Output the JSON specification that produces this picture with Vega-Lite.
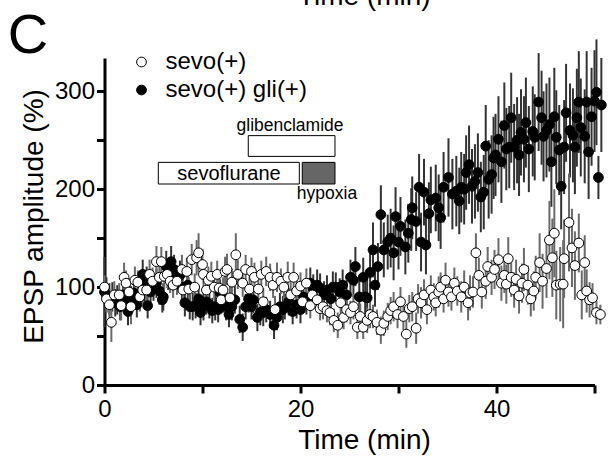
{
"$schema":"https://vega.github.io/schema/vega-lite/v6.json",
"width":490,"height":327,
"autosize":{"type":"none"},
"padding":{"left":104.5,"top":58,"right":15.5,"bottom":74},
"config":{"view":{"stroke":null},"font":"Liberation Sans"},
"datasets":{
"pts":[
{"g":"sevo(+) gli(+)","t":0.0,"y":95,"e":36},{"g":"sevo(+) gli(+)","t":0.2,"y":92,"e":18},{"g":"sevo(+) gli(+)","t":0.5,"y":88,"e":16},{"g":"sevo(+) gli(+)","t":0.8,"y":90,"e":15},{"g":"sevo(+) gli(+)","t":1.1,"y":84,"e":14},{"g":"sevo(+) gli(+)","t":1.3,"y":87,"e":15},{"g":"sevo(+) gli(+)","t":1.6,"y":80,"e":14},{"g":"sevo(+) gli(+)","t":1.9,"y":92,"e":13},{"g":"sevo(+) gli(+)","t":2.1,"y":86,"e":14},{"g":"sevo(+) gli(+)","t":2.4,"y":75,"e":14},{"g":"sevo(+) gli(+)","t":2.7,"y":88,"e":13},{"g":"sevo(+) gli(+)","t":3.0,"y":94,"e":14},{"g":"sevo(+) gli(+)","t":3.3,"y":82,"e":13},{"g":"sevo(+) gli(+)","t":3.6,"y":90,"e":14},{"g":"sevo(+) gli(+)","t":3.9,"y":113,"e":15},{"g":"sevo(+) gli(+)","t":4.1,"y":98,"e":14},{"g":"sevo(+) gli(+)","t":4.3,"y":107,"e":14},{"g":"sevo(+) gli(+)","t":4.4,"y":81,"e":13},{"g":"sevo(+) gli(+)","t":4.7,"y":95,"e":14},{"g":"sevo(+) gli(+)","t":5.0,"y":100,"e":14},{"g":"sevo(+) gli(+)","t":5.3,"y":104,"e":15},{"g":"sevo(+) gli(+)","t":5.6,"y":96,"e":14},{"g":"sevo(+) gli(+)","t":5.9,"y":87,"e":13},{"g":"sevo(+) gli(+)","t":6.0,"y":90,"e":14},{"g":"sevo(+) gli(+)","t":6.3,"y":121,"e":16},{"g":"sevo(+) gli(+)","t":6.5,"y":112,"e":15},{"g":"sevo(+) gli(+)","t":6.8,"y":126,"e":16},{"g":"sevo(+) gli(+)","t":7.1,"y":118,"e":15},{"g":"sevo(+) gli(+)","t":7.4,"y":108,"e":14},{"g":"sevo(+) gli(+)","t":7.7,"y":112,"e":15},{"g":"sevo(+) gli(+)","t":7.9,"y":100,"e":13},{"g":"sevo(+) gli(+)","t":8.2,"y":84,"e":14},{"g":"sevo(+) gli(+)","t":8.5,"y":102,"e":14},{"g":"sevo(+) gli(+)","t":8.7,"y":80,"e":13},{"g":"sevo(+) gli(+)","t":9.0,"y":80,"e":14},{"g":"sevo(+) gli(+)","t":9.3,"y":81,"e":13},{"g":"sevo(+) gli(+)","t":9.6,"y":88,"e":14},{"g":"sevo(+) gli(+)","t":9.8,"y":74,"e":13},{"g":"sevo(+) gli(+)","t":10.1,"y":80,"e":14},{"g":"sevo(+) gli(+)","t":10.4,"y":85,"e":13},{"g":"sevo(+) gli(+)","t":10.7,"y":82,"e":14},{"g":"sevo(+) gli(+)","t":11.0,"y":76,"e":13},{"g":"sevo(+) gli(+)","t":11.3,"y":80,"e":14},{"g":"sevo(+) gli(+)","t":11.6,"y":77,"e":13},{"g":"sevo(+) gli(+)","t":11.8,"y":94,"e":14},{"g":"sevo(+) gli(+)","t":12.1,"y":87,"e":13},{"g":"sevo(+) gli(+)","t":12.4,"y":80,"e":14},{"g":"sevo(+) gli(+)","t":12.7,"y":72,"e":13},{"g":"sevo(+) gli(+)","t":13.0,"y":80,"e":14},{"g":"sevo(+) gli(+)","t":13.3,"y":87,"e":14},{"g":"sevo(+) gli(+)","t":13.8,"y":67,"e":14},{"g":"sevo(+) gli(+)","t":14.1,"y":59,"e":14},{"g":"sevo(+) gli(+)","t":14.4,"y":80,"e":13},{"g":"sevo(+) gli(+)","t":14.7,"y":88,"e":14},{"g":"sevo(+) gli(+)","t":15.0,"y":80,"e":13},{"g":"sevo(+) gli(+)","t":15.2,"y":87,"e":14},{"g":"sevo(+) gli(+)","t":15.6,"y":69,"e":14},{"g":"sevo(+) gli(+)","t":15.9,"y":74,"e":13},{"g":"sevo(+) gli(+)","t":16.2,"y":74,"e":14},{"g":"sevo(+) gli(+)","t":16.5,"y":77,"e":13},{"g":"sevo(+) gli(+)","t":16.9,"y":72,"e":14},{"g":"sevo(+) gli(+)","t":17.3,"y":61,"e":14},{"g":"sevo(+) gli(+)","t":17.6,"y":69,"e":13},{"g":"sevo(+) gli(+)","t":17.9,"y":80,"e":14},{"g":"sevo(+) gli(+)","t":18.2,"y":77,"e":14},{"g":"sevo(+) gli(+)","t":18.4,"y":80,"e":13},{"g":"sevo(+) gli(+)","t":18.8,"y":85,"e":14},{"g":"sevo(+) gli(+)","t":19.2,"y":75,"e":13},{"g":"sevo(+) gli(+)","t":19.6,"y":82,"e":14},{"g":"sevo(+) gli(+)","t":20.0,"y":77,"e":14},{"g":"sevo(+) gli(+)","t":20.3,"y":90,"e":15},{"g":"sevo(+) gli(+)","t":20.6,"y":86,"e":14},{"g":"sevo(+) gli(+)","t":21.0,"y":104,"e":16},{"g":"sevo(+) gli(+)","t":21.3,"y":98,"e":15},{"g":"sevo(+) gli(+)","t":21.7,"y":102,"e":16},{"g":"sevo(+) gli(+)","t":22.0,"y":99,"e":15},{"g":"sevo(+) gli(+)","t":22.4,"y":92,"e":14},{"g":"sevo(+) gli(+)","t":22.7,"y":97,"e":15},{"g":"sevo(+) gli(+)","t":23.1,"y":88,"e":14},{"g":"sevo(+) gli(+)","t":23.3,"y":100,"e":16},{"g":"sevo(+) gli(+)","t":23.6,"y":100,"e":15},{"g":"sevo(+) gli(+)","t":24.0,"y":95,"e":14},{"g":"sevo(+) gli(+)","t":24.3,"y":102,"e":16},{"g":"sevo(+) gli(+)","t":24.7,"y":92,"e":15},{"g":"sevo(+) gli(+)","t":25.1,"y":110,"e":18},{"g":"sevo(+) gli(+)","t":25.4,"y":107,"e":17},{"g":"sevo(+) gli(+)","t":25.6,"y":121,"e":20},{"g":"sevo(+) gli(+)","t":26.0,"y":90,"e":18},{"g":"sevo(+) gli(+)","t":26.4,"y":110,"e":20},{"g":"sevo(+) gli(+)","t":26.6,"y":90,"e":18},{"g":"sevo(+) gli(+)","t":26.8,"y":89,"e":20},{"g":"sevo(+) gli(+)","t":27.1,"y":115,"e":22},{"g":"sevo(+) gli(+)","t":27.4,"y":138,"e":28},{"g":"sevo(+) gli(+)","t":27.6,"y":102,"e":22},{"g":"sevo(+) gli(+)","t":27.9,"y":121,"e":24},{"g":"sevo(+) gli(+)","t":28.2,"y":174,"e":30},{"g":"sevo(+) gli(+)","t":28.5,"y":138,"e":28},{"g":"sevo(+) gli(+)","t":28.9,"y":146,"e":28},{"g":"sevo(+) gli(+)","t":29.2,"y":150,"e":30},{"g":"sevo(+) gli(+)","t":29.5,"y":135,"e":28},{"g":"sevo(+) gli(+)","t":29.7,"y":172,"e":30},{"g":"sevo(+) gli(+)","t":30.0,"y":146,"e":28},{"g":"sevo(+) gli(+)","t":30.2,"y":162,"e":30},{"g":"sevo(+) gli(+)","t":30.7,"y":141,"e":28},{"g":"sevo(+) gli(+)","t":31.0,"y":155,"e":30},{"g":"sevo(+) gli(+)","t":31.3,"y":169,"e":32},{"g":"sevo(+) gli(+)","t":31.4,"y":181,"e":32},{"g":"sevo(+) gli(+)","t":31.8,"y":167,"e":30},{"g":"sevo(+) gli(+)","t":32.1,"y":202,"e":34},{"g":"sevo(+) gli(+)","t":32.3,"y":146,"e":30},{"g":"sevo(+) gli(+)","t":32.6,"y":197,"e":34},{"g":"sevo(+) gli(+)","t":32.8,"y":143,"e":30},{"g":"sevo(+) gli(+)","t":33.1,"y":175,"e":32},{"g":"sevo(+) gli(+)","t":33.3,"y":189,"e":34},{"g":"sevo(+) gli(+)","t":33.8,"y":191,"e":34},{"g":"sevo(+) gli(+)","t":34.1,"y":181,"e":34},{"g":"sevo(+) gli(+)","t":34.3,"y":171,"e":32},{"g":"sevo(+) gli(+)","t":34.6,"y":202,"e":36},{"g":"sevo(+) gli(+)","t":35.1,"y":212,"e":40},{"g":"sevo(+) gli(+)","t":35.5,"y":195,"e":36},{"g":"sevo(+) gli(+)","t":35.9,"y":198,"e":36},{"g":"sevo(+) gli(+)","t":36.2,"y":188,"e":34},{"g":"sevo(+) gli(+)","t":36.4,"y":202,"e":36},{"g":"sevo(+) gli(+)","t":36.7,"y":200,"e":36},{"g":"sevo(+) gli(+)","t":36.9,"y":217,"e":38},{"g":"sevo(+) gli(+)","t":37.2,"y":225,"e":40},{"g":"sevo(+) gli(+)","t":37.5,"y":203,"e":38},{"g":"sevo(+) gli(+)","t":37.8,"y":208,"e":38},{"g":"sevo(+) gli(+)","t":38.1,"y":217,"e":40},{"g":"sevo(+) gli(+)","t":38.4,"y":192,"e":36},{"g":"sevo(+) gli(+)","t":38.7,"y":197,"e":38},{"g":"sevo(+) gli(+)","t":38.9,"y":244,"e":42},{"g":"sevo(+) gli(+)","t":39.2,"y":210,"e":40},{"g":"sevo(+) gli(+)","t":39.5,"y":215,"e":40},{"g":"sevo(+) gli(+)","t":39.7,"y":232,"e":42},{"g":"sevo(+) gli(+)","t":39.9,"y":235,"e":42},{"g":"sevo(+) gli(+)","t":40.2,"y":251,"e":44},{"g":"sevo(+) gli(+)","t":40.5,"y":228,"e":42},{"g":"sevo(+) gli(+)","t":40.8,"y":265,"e":44},{"g":"sevo(+) gli(+)","t":41.0,"y":241,"e":42},{"g":"sevo(+) gli(+)","t":41.3,"y":243,"e":42},{"g":"sevo(+) gli(+)","t":41.5,"y":273,"e":46},{"g":"sevo(+) gli(+)","t":41.8,"y":243,"e":44},{"g":"sevo(+) gli(+)","t":42.1,"y":250,"e":44},{"g":"sevo(+) gli(+)","t":42.3,"y":235,"e":42},{"g":"sevo(+) gli(+)","t":42.5,"y":258,"e":44},{"g":"sevo(+) gli(+)","t":42.8,"y":251,"e":44},{"g":"sevo(+) gli(+)","t":43.0,"y":268,"e":46},{"g":"sevo(+) gli(+)","t":43.3,"y":241,"e":44},{"g":"sevo(+) gli(+)","t":43.7,"y":259,"e":46},{"g":"sevo(+) gli(+)","t":43.9,"y":253,"e":44},{"g":"sevo(+) gli(+)","t":44.3,"y":289,"e":50},{"g":"sevo(+) gli(+)","t":44.6,"y":273,"e":48},{"g":"sevo(+) gli(+)","t":44.8,"y":254,"e":46},{"g":"sevo(+) gli(+)","t":45.1,"y":260,"e":48},{"g":"sevo(+) gli(+)","t":45.4,"y":266,"e":48},{"g":"sevo(+) gli(+)","t":45.6,"y":228,"e":46},{"g":"sevo(+) gli(+)","t":45.9,"y":274,"e":50},{"g":"sevo(+) gli(+)","t":46.1,"y":253,"e":48},{"g":"sevo(+) gli(+)","t":46.4,"y":240,"e":46},{"g":"sevo(+) gli(+)","t":46.6,"y":203,"e":44},{"g":"sevo(+) gli(+)","t":46.9,"y":243,"e":48},{"g":"sevo(+) gli(+)","t":47.1,"y":278,"e":50},{"g":"sevo(+) gli(+)","t":47.5,"y":260,"e":48},{"g":"sevo(+) gli(+)","t":47.8,"y":255,"e":48},{"g":"sevo(+) gli(+)","t":48.0,"y":243,"e":48},{"g":"sevo(+) gli(+)","t":48.2,"y":273,"e":50},{"g":"sevo(+) gli(+)","t":48.4,"y":289,"e":52},{"g":"sevo(+) gli(+)","t":48.6,"y":263,"e":50},{"g":"sevo(+) gli(+)","t":49.0,"y":254,"e":48},{"g":"sevo(+) gli(+)","t":49.2,"y":289,"e":52},{"g":"sevo(+) gli(+)","t":49.4,"y":238,"e":48},{"g":"sevo(+) gli(+)","t":49.7,"y":274,"e":50},{"g":"sevo(+) gli(+)","t":50.0,"y":290,"e":52},{"g":"sevo(+) gli(+)","t":50.2,"y":299,"e":54},{"g":"sevo(+) gli(+)","t":50.4,"y":212,"e":22},{"g":"sevo(+) gli(+)","t":50.7,"y":286,"e":48},
{"g":"sevo(+)","t":0.0,"y":100,"e":12},{"g":"sevo(+)","t":0.2,"y":88,"e":14},{"g":"sevo(+)","t":0.5,"y":82,"e":16},{"g":"sevo(+)","t":0.7,"y":64,"e":20},{"g":"sevo(+)","t":1.0,"y":92,"e":14},{"g":"sevo(+)","t":1.5,"y":92,"e":12},{"g":"sevo(+)","t":1.7,"y":81,"e":15},{"g":"sevo(+)","t":2.0,"y":110,"e":15},{"g":"sevo(+)","t":2.2,"y":104,"e":13},{"g":"sevo(+)","t":2.5,"y":95,"e":14},{"g":"sevo(+)","t":2.7,"y":80,"e":18},{"g":"sevo(+)","t":3.1,"y":107,"e":14},{"g":"sevo(+)","t":3.4,"y":105,"e":12},{"g":"sevo(+)","t":3.6,"y":90,"e":15},{"g":"sevo(+)","t":3.9,"y":97,"e":14},{"g":"sevo(+)","t":4.3,"y":97,"e":13},{"g":"sevo(+)","t":4.6,"y":113,"e":15},{"g":"sevo(+)","t":4.9,"y":106,"e":14},{"g":"sevo(+)","t":5.3,"y":126,"e":16},{"g":"sevo(+)","t":5.6,"y":110,"e":14},{"g":"sevo(+)","t":5.8,"y":126,"e":15},{"g":"sevo(+)","t":6.1,"y":111,"e":13},{"g":"sevo(+)","t":6.4,"y":113,"e":14},{"g":"sevo(+)","t":6.7,"y":106,"e":12},{"g":"sevo(+)","t":7.0,"y":102,"e":13},{"g":"sevo(+)","t":7.4,"y":106,"e":14},{"g":"sevo(+)","t":7.9,"y":118,"e":15},{"g":"sevo(+)","t":8.0,"y":97,"e":13},{"g":"sevo(+)","t":8.4,"y":116,"e":14},{"g":"sevo(+)","t":8.6,"y":98,"e":12},{"g":"sevo(+)","t":8.9,"y":128,"e":16},{"g":"sevo(+)","t":9.2,"y":100,"e":14},{"g":"sevo(+)","t":9.4,"y":130,"e":18},{"g":"sevo(+)","t":9.6,"y":135,"e":20},{"g":"sevo(+)","t":10.0,"y":123,"e":16},{"g":"sevo(+)","t":10.1,"y":113,"e":14},{"g":"sevo(+)","t":10.4,"y":97,"e":13},{"g":"sevo(+)","t":10.6,"y":107,"e":14},{"g":"sevo(+)","t":10.9,"y":111,"e":15},{"g":"sevo(+)","t":11.2,"y":100,"e":13},{"g":"sevo(+)","t":11.5,"y":113,"e":14},{"g":"sevo(+)","t":11.7,"y":99,"e":12},{"g":"sevo(+)","t":11.9,"y":87,"e":14},{"g":"sevo(+)","t":12.1,"y":97,"e":13},{"g":"sevo(+)","t":12.3,"y":116,"e":15},{"g":"sevo(+)","t":12.5,"y":118,"e":16},{"g":"sevo(+)","t":12.8,"y":89,"e":14},{"g":"sevo(+)","t":13.0,"y":105,"e":14},{"g":"sevo(+)","t":13.4,"y":133,"e":22},{"g":"sevo(+)","t":13.6,"y":113,"e":15},{"g":"sevo(+)","t":14.1,"y":104,"e":14},{"g":"sevo(+)","t":14.4,"y":118,"e":15},{"g":"sevo(+)","t":14.8,"y":98,"e":13},{"g":"sevo(+)","t":15.0,"y":116,"e":14},{"g":"sevo(+)","t":15.3,"y":110,"e":15},{"g":"sevo(+)","t":15.7,"y":98,"e":13},{"g":"sevo(+)","t":16.0,"y":113,"e":14},{"g":"sevo(+)","t":16.2,"y":85,"e":14},{"g":"sevo(+)","t":16.5,"y":116,"e":15},{"g":"sevo(+)","t":16.9,"y":110,"e":14},{"g":"sevo(+)","t":17.2,"y":102,"e":13},{"g":"sevo(+)","t":17.4,"y":77,"e":14},{"g":"sevo(+)","t":17.6,"y":110,"e":15},{"g":"sevo(+)","t":18.0,"y":106,"e":13},{"g":"sevo(+)","t":18.3,"y":100,"e":14},{"g":"sevo(+)","t":18.7,"y":110,"e":16},{"g":"sevo(+)","t":19.0,"y":92,"e":13},{"g":"sevo(+)","t":19.3,"y":110,"e":15},{"g":"sevo(+)","t":19.6,"y":96,"e":14},{"g":"sevo(+)","t":20.0,"y":101,"e":14},{"g":"sevo(+)","t":20.2,"y":85,"e":12},{"g":"sevo(+)","t":20.6,"y":104,"e":15},{"g":"sevo(+)","t":21.0,"y":81,"e":13},{"g":"sevo(+)","t":21.2,"y":92,"e":14},{"g":"sevo(+)","t":21.7,"y":87,"e":13},{"g":"sevo(+)","t":22.0,"y":78,"e":12},{"g":"sevo(+)","t":22.3,"y":80,"e":13},{"g":"sevo(+)","t":22.7,"y":76,"e":12},{"g":"sevo(+)","t":23.0,"y":74,"e":13},{"g":"sevo(+)","t":23.4,"y":66,"e":12},{"g":"sevo(+)","t":23.8,"y":61,"e":13},{"g":"sevo(+)","t":24.1,"y":84,"e":14},{"g":"sevo(+)","t":24.4,"y":69,"e":12},{"g":"sevo(+)","t":24.7,"y":77,"e":13},{"g":"sevo(+)","t":25.1,"y":74,"e":12},{"g":"sevo(+)","t":25.4,"y":80,"e":13},{"g":"sevo(+)","t":25.8,"y":59,"e":12},{"g":"sevo(+)","t":26.1,"y":70,"e":13},{"g":"sevo(+)","t":26.4,"y":59,"e":12},{"g":"sevo(+)","t":26.8,"y":66,"e":13},{"g":"sevo(+)","t":27.1,"y":72,"e":14},{"g":"sevo(+)","t":27.4,"y":70,"e":12},{"g":"sevo(+)","t":27.8,"y":64,"e":13},{"g":"sevo(+)","t":28.2,"y":56,"e":14},{"g":"sevo(+)","t":28.5,"y":63,"e":13},{"g":"sevo(+)","t":28.9,"y":70,"e":14},{"g":"sevo(+)","t":29.2,"y":76,"e":14},{"g":"sevo(+)","t":29.5,"y":80,"e":15},{"g":"sevo(+)","t":29.9,"y":72,"e":14},{"g":"sevo(+)","t":30.2,"y":85,"e":15},{"g":"sevo(+)","t":30.5,"y":70,"e":14},{"g":"sevo(+)","t":30.8,"y":52,"e":14},{"g":"sevo(+)","t":31.1,"y":78,"e":14},{"g":"sevo(+)","t":31.4,"y":80,"e":15},{"g":"sevo(+)","t":31.8,"y":58,"e":16},{"g":"sevo(+)","t":32.0,"y":88,"e":15},{"g":"sevo(+)","t":32.3,"y":84,"e":16},{"g":"sevo(+)","t":32.6,"y":92,"e":16},{"g":"sevo(+)","t":32.9,"y":77,"e":15},{"g":"sevo(+)","t":33.3,"y":97,"e":15},{"g":"sevo(+)","t":33.6,"y":90,"e":14},{"g":"sevo(+)","t":33.8,"y":84,"e":14},{"g":"sevo(+)","t":34.1,"y":95,"e":16},{"g":"sevo(+)","t":34.3,"y":100,"e":15},{"g":"sevo(+)","t":34.6,"y":88,"e":14},{"g":"sevo(+)","t":34.8,"y":107,"e":18},{"g":"sevo(+)","t":35.1,"y":95,"e":15},{"g":"sevo(+)","t":35.4,"y":90,"e":14},{"g":"sevo(+)","t":35.7,"y":104,"e":16},{"g":"sevo(+)","t":36.0,"y":96,"e":15},{"g":"sevo(+)","t":36.4,"y":90,"e":16},{"g":"sevo(+)","t":36.7,"y":100,"e":17},{"g":"sevo(+)","t":37.1,"y":84,"e":18},{"g":"sevo(+)","t":37.3,"y":94,"e":18},{"g":"sevo(+)","t":37.6,"y":95,"e":16},{"g":"sevo(+)","t":37.9,"y":135,"e":20},{"g":"sevo(+)","t":38.2,"y":112,"e":18},{"g":"sevo(+)","t":38.5,"y":95,"e":17},{"g":"sevo(+)","t":38.9,"y":106,"e":18},{"g":"sevo(+)","t":39.1,"y":121,"e":20},{"g":"sevo(+)","t":39.5,"y":110,"e":18},{"g":"sevo(+)","t":39.8,"y":118,"e":20},{"g":"sevo(+)","t":40.2,"y":128,"e":22},{"g":"sevo(+)","t":40.5,"y":104,"e":18},{"g":"sevo(+)","t":40.8,"y":112,"e":18},{"g":"sevo(+)","t":41.0,"y":103,"e":20},{"g":"sevo(+)","t":41.2,"y":129,"e":22},{"g":"sevo(+)","t":41.5,"y":110,"e":20},{"g":"sevo(+)","t":41.8,"y":97,"e":18},{"g":"sevo(+)","t":42.0,"y":108,"e":20},{"g":"sevo(+)","t":42.3,"y":91,"e":18},{"g":"sevo(+)","t":42.6,"y":104,"e":20},{"g":"sevo(+)","t":42.8,"y":118,"e":22},{"g":"sevo(+)","t":43.2,"y":102,"e":20},{"g":"sevo(+)","t":43.5,"y":88,"e":18},{"g":"sevo(+)","t":43.8,"y":96,"e":20},{"g":"sevo(+)","t":44.0,"y":110,"e":22},{"g":"sevo(+)","t":44.4,"y":125,"e":30},{"g":"sevo(+)","t":44.7,"y":106,"e":28},{"g":"sevo(+)","t":45.1,"y":119,"e":30},{"g":"sevo(+)","t":45.4,"y":148,"e":40},{"g":"sevo(+)","t":45.7,"y":130,"e":40},{"g":"sevo(+)","t":45.9,"y":155,"e":45},{"g":"sevo(+)","t":46.1,"y":102,"e":35},{"g":"sevo(+)","t":46.5,"y":103,"e":38},{"g":"sevo(+)","t":46.8,"y":103,"e":45},{"g":"sevo(+)","t":46.9,"y":129,"e":40},{"g":"sevo(+)","t":47.4,"y":166,"e":50},{"g":"sevo(+)","t":47.7,"y":140,"e":40},{"g":"sevo(+)","t":48.0,"y":122,"e":35},{"g":"sevo(+)","t":48.4,"y":145,"e":30},{"g":"sevo(+)","t":48.7,"y":92,"e":25},{"g":"sevo(+)","t":49.0,"y":125,"e":28},{"g":"sevo(+)","t":49.2,"y":96,"e":22},{"g":"sevo(+)","t":49.5,"y":87,"e":18},{"g":"sevo(+)","t":49.8,"y":89,"e":15},{"g":"sevo(+)","t":50.2,"y":74,"e":12},{"g":"sevo(+)","t":50.6,"y":72,"e":10}
],
"boxes":[
{"name":"glibenclamide","t0":14.67,"t1":23.52,"v0":233.5,"v1":254.7},
{"name":"sevoflurane","t0":5.49,"t1":19.88,"v0":205.3,"v1":227.4},
{"name":"hypoxia","t0":20.18,"t1":23.52,"v0":205.3,"v1":227.4}
],
"labels":[
{"label":"glibenclamide","t":18.93,"v":259},
{"label":"sevoflurane","t":12.7,"v":209},
{"label":"hypoxia","t":22.7,"v":190},
{"label":"Time (min)","t":26.5,"v":388},
{"label":"C","t":-7.8,"v":339.6}
]
},
"layer":[
{"data":{"name":"pts"},"transform":[{"filter":"datum.g === 'sevo(+) gli(+)'"}],
 "mark":{"type":"errorbar","color":"#333","thickness":2},
 "encoding":{
  "x":{"field":"t","type":"quantitative","title":"Time (min)","scale":{"domain":[0,50],"nice":false}},
  "y":{"field":"y","type":"quantitative","title":"EPSP amplitude (%)","scale":{"domain":[0,334],"nice":false}},
  "yError":{"field":"e"}}},
{"data":{"name":"pts"},"transform":[{"filter":"datum.g === 'sevo(+)'"}],
 "mark":{"type":"errorbar","color":"#6a6a6a","thickness":2},
 "encoding":{
  "x":{"field":"t","type":"quantitative","title":"Time (min)","scale":{"domain":[0,50],"nice":false}},
  "y":{"field":"y","type":"quantitative","title":"EPSP amplitude (%)","scale":{"domain":[0,334],"nice":false}},
  "yError":{"field":"e"}}},
{"data":{"name":"pts"},
 "mark":{"type":"point","shape":"circle","filled":true,"size":95,"stroke":"black","strokeWidth":1,"opacity":1},
 "encoding":{
  "x":{"field":"t","type":"quantitative","title":"Time (min)","scale":{"domain":[0,50],"nice":false},
   "axis":{"values":[0,10,20,30,40,50],"labelExpr":"datum.value % 20 === 0 ? datum.label : ''","grid":false,"domainColor":"black","domainWidth":3,"tickColor":"black","tickWidth":3,"tickSize":8,"labelFontSize":24,"labelFont":"Liberation Sans","labelColor":"black","labelPadding":4,"labelFlush":false,"labelOverlap":false,"titleFontSize":28,"titleFont":"Liberation Sans","titleFontWeight":"normal","titleColor":"black","titleX":259.5,"titleY":63,"titleBaseline":"alphabetic","titleAlign":"center"}},
  "y":{"field":"y","type":"quantitative","title":"EPSP amplitude (%)","scale":{"domain":[0,334],"nice":false},
   "axis":{"values":[0,50,100,150,200,250,300],"labelExpr":"datum.value % 100 === 0 ? datum.label : ''","grid":false,"domainColor":"black","domainWidth":3,"tickColor":"black","tickWidth":3,"tickSize":8,"labelFontSize":24,"labelFont":"Liberation Sans","labelColor":"black","labelPadding":2,"labelFlush":false,"labelOverlap":false,"titleFontSize":28,"titleFont":"Liberation Sans","titleFontWeight":"normal","titleColor":"black","titleX":-62,"titleY":158,"titleAngle":-90,"titleBaseline":"alphabetic","titleAlign":"center"}},
  "fill":{"field":"g","type":"nominal","scale":{"domain":["sevo(+)","sevo(+) gli(+)"],"range":["white","black"]},
   "legend":{"title":null,"orient":"none","legendX":25,"legendY":-8,"labelFontSize":24,"labelFont":"Liberation Sans","labelColor":"black","symbolSize":95,"symbolType":"circle","symbolStrokeColor":"black","symbolStrokeWidth":1,"labelOffset":12,"rowPadding":4,"padding":0}}}},
{"data":{"name":"boxes"},
 "mark":{"type":"rect","stroke":"black","strokeWidth":1},
 "encoding":{
  "x":{"field":"t0","type":"quantitative","title":"Time (min)","scale":{"domain":[0,50],"nice":false}},
  "x2":{"field":"t1"},
  "y":{"field":"v0","type":"quantitative","title":"EPSP amplitude (%)","scale":{"domain":[0,334],"nice":false}},
  "y2":{"field":"v1"},
  "fill":{"condition":{"test":"datum.name === 'hypoxia'","value":"#666666"},"value":"white"}}},
{"data":{"name":"labels"},
 "mark":{"type":"text","font":"Liberation Sans","color":"black","baseline":"alphabetic","align":"center"},
 "encoding":{
  "x":{"field":"t","type":"quantitative","title":"Time (min)","scale":{"domain":[0,50],"nice":false}},
  "y":{"field":"v","type":"quantitative","title":"EPSP amplitude (%)","scale":{"domain":[0,334],"nice":false}},
  "text":{"field":"label"},
  "size":{"condition":[{"test":"datum.label === 'C'","value":56},{"test":"datum.label === 'Time (min)'","value":28},{"test":"datum.label === 'sevoflurane'","value":20}],"value":17.5}}}
]
}
